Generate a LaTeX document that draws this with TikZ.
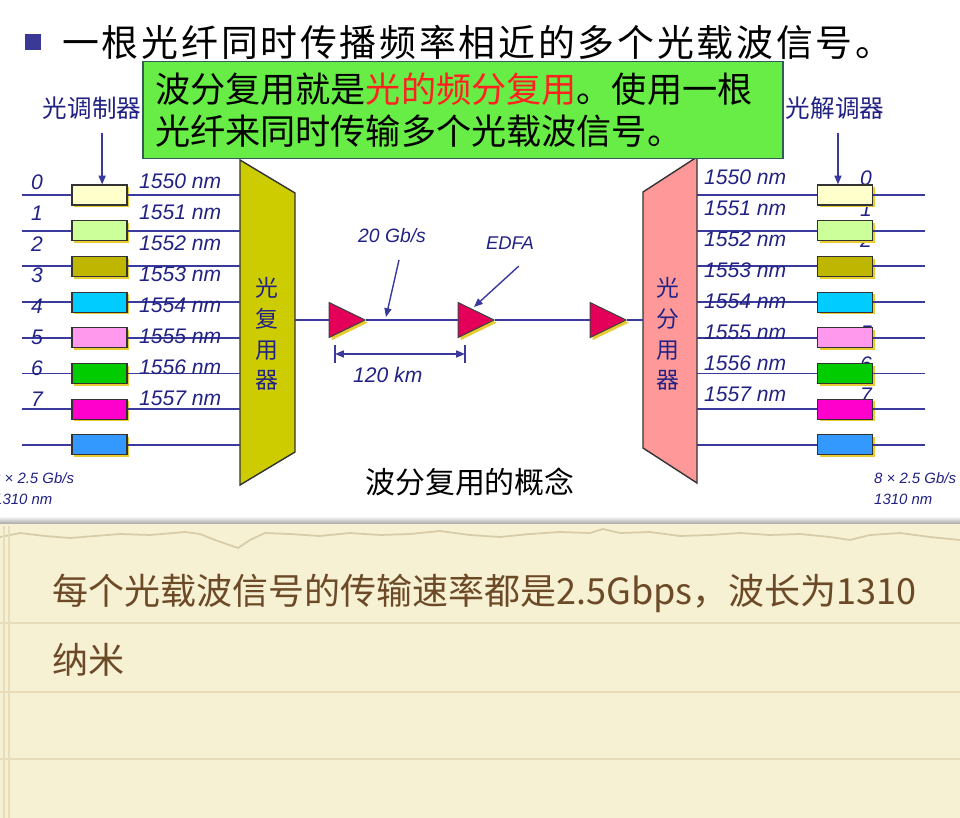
\documentclass[tikz,border=0pt]{standalone}
\usepackage{fontspec}
\setmainfont{Noto Sans CJK SC}
\setsansfont{Liberation Sans}
\usepackage{tikz}
\usetikzlibrary{arrows.meta, positioning, shapes.geometric, shadows}
\definecolor{wdmblue}{RGB}{58,58,156}
\definecolor{inkblue}{RGB}{34,34,132}
\definecolor{notegreen}{RGB}{104,236,70}
\definecolor{noteline}{RGB}{50,90,90}
\definecolor{notered}{RGB}{255,32,32}
\definecolor{muxolive}{RGB}{204,204,0}
\definecolor{demuxpink}{RGB}{255,153,153}
\definecolor{ampred}{RGB}{228,0,88}
\definecolor{shadowyellow}{RGB}{232,204,50}
\definecolor{bulletblue}{RGB}{58,58,150}
\definecolor{paper}{RGB}{247,241,211}
\definecolor{paperline}{RGB}{231,221,186}
\definecolor{tearline}{RGB}{214,204,168}
\definecolor{penbrown}{RGB}{108,74,40}
\definecolor{sigA}{RGB}{255,255,204}
\definecolor{sigB}{RGB}{204,255,153}
\definecolor{sigC}{RGB}{190,182,0}
\definecolor{sigD}{RGB}{0,204,255}
\definecolor{sigE}{RGB}{255,153,238}
\definecolor{sigF}{RGB}{0,204,0}
\definecolor{sigG}{RGB}{255,0,204}
\definecolor{sigH}{RGB}{51,153,255}

\begin{document}
\begin{tikzpicture}[
  x=0.02cm, y=-0.02cm,
  fiber/.style={wdmblue, line width=1.1pt},
  ptr/.style={-{Triangle[length=5pt,width=4pt]}, wdmblue, line width=0.8pt},
  modbox/.style={rectangle, draw=black!80, line width=0.6pt, inner sep=0pt,
                 minimum width=1.1cm, minimum height=0.4cm,
                 general shadow={fill=shadowyellow, shadow xshift=1.2pt, shadow yshift=-1.2pt}},
  amp/.style={isosceles triangle, isosceles triangle stretches, inner sep=0pt,
              minimum width=0.7cm, minimum height=0.72cm, fill=ampred, draw=black!75, line width=0.6pt,
              general shadow={fill=shadowyellow, shadow xshift=1.5pt, shadow yshift=-1.5pt}},
  lbl/.style={inkblue, font=\sffamily\itshape\fontsize{12}{12}\selectfont},
  small/.style={inkblue, font=\sffamily\itshape\fontsize{8.5}{8.5}\selectfont},
  vtext/.style={inkblue, align=center, font=\fontsize{13}{17.5}\selectfont},
  note/.style={rectangle, draw=noteline, line width=0.8pt, fill=notegreen,
               minimum width=12.8cm, minimum height=1.94cm, inner xsep=0.24cm,
               text width=12.32cm, align=left, font=\fontsize{20}{24}\selectfont},
]
\useasboundingbox (0,0) rectangle (960,818);
\clip (0,0) rectangle (960,818);

% paper below the slide
\fill[white] (0,0) rectangle (960,524);
\shade[top color=white, bottom color=black!35] (0,516) rectangle (960,524);
\fill[paper] (0,524) rectangle (960,818);
\draw[tearline, line width=1pt] (0,537) -- (20,533) -- (45,536) -- (70,538) -- (95,536) -- (120,534)
  -- (150,535) -- (185,532) -- (200,534) -- (215,540) -- (238,548) -- (250,540) -- (265,533)
  -- (290,534) -- (320,536) -- (350,533) -- (380,535) -- (410,534) -- (440,531) -- (470,535)
  -- (500,537) -- (530,534) -- (560,532) -- (590,533) -- (603,529) -- (620,533) -- (650,532)
  -- (680,536) -- (710,535) -- (740,533) -- (770,535) -- (800,534) -- (830,537) -- (850,540)
  -- (870,535) -- (900,533) -- (930,537) -- (960,540);
\foreach \ry in {623,692,759}
  \draw[paperline, line width=0.8pt] (0,\ry) -- (960,\ry);
\draw[paperline, line width=0.8pt] (4,526) -- (4,818);
\draw[paperline, line width=0.8pt] (9,526) -- (9,818);

% title
\node[fill=bulletblue, minimum size=0.32cm, inner sep=0pt] (bullet) at (33,42) {};
\node[anchor=west, inner sep=0pt, font=\fontsize{21}{21}\selectfont\addfontfeature{LetterSpace=7.5}] (title) at (62,42)
  {一根光纤同时传播频率相近的多个光载波信号。};

% multiplexer and demultiplexer
\filldraw[fill=muxolive, draw=black!80, line width=0.8pt] (240,160) -- (295,193) -- (295,452) -- (240,485) -- cycle;
\filldraw[fill=demuxpink, draw=black!80, line width=0.8pt] (643,192) -- (697,157) -- (697,483) -- (643,448) -- cycle;
\node[vtext] (muxname) at (267,334) {光\\复\\用\\器};
\node[vtext] (demuxname) at (668,334) {光\\分\\用\\器};
\coordinate (muxout) at (295,320);
\coordinate (demuxin) at (643,320);

% channel numbers on the right sit under the boxes
\foreach \i in {0,...,7}
  \node[lbl] (rnum\i) at (866,{178+31*\i}) {\i};

% channels
\foreach \i/\c in {0/sigA,1/sigB,2/sigC,3/sigD,4/sigE,5/sigF,6/sigG,7/sigH}{
  \pgfmathsetmacro\ly{195+35.7*\i}
  \coordinate (in\i) at (22,\ly);
  \coordinate (muxin\i) at (240,\ly);
  \coordinate (demuxout\i) at (697,\ly);
  \coordinate (out\i) at (925,\ly);
  \node[modbox, fill=\c] (mod\i) at (99.5,\ly) {};
  \node[modbox, fill=\c] (demod\i) at (845,\ly) {};
  \draw[fiber] (in\i) -- (mod\i) -- (muxin\i);
  \draw[fiber] (demuxout\i) -- (demod\i) -- (out\i);
}

% labels of the channels
\foreach \i in {0,...,7}{
  \pgfmathtruncatemacro\wl{1550+\i}
  \node[lbl] (lnum\i) at (37,{182+31*\i}) {\i};
  \node[lbl, anchor=west] (wlin\i) at (133,{181+31*\i}) {\wl\ nm};
  \node[lbl, anchor=west] (wlout\i) at (698,{177+31*\i}) {\wl\ nm};
}

% modulator / demodulator
\node[inkblue, font=\fontsize{14}{14}\selectfont] (modlabel) at (92,108) {光调制器};
\node[inkblue, font=\fontsize{14}{14}\selectfont] (demodlabel) at (835,108) {光解调器};
\draw[ptr, shorten <=4pt] ([xshift=1.5pt]modlabel.south -| mod0.north) -- ([xshift=1.5pt]mod0.north);
\draw[ptr, shorten <=4pt] ([xshift=-4pt]demodlabel.south -| demod0.north) -- ([xshift=-4pt]demod0.north);

% line with amplifiers
\node[amp] (amp1) at (340,320) {};
\node[amp] (amp2) at (469,320) {};
\node[amp] (amp3) at (601,320) {};
\draw[fiber] (muxout) -- (amp1) -- (amp2) -- (amp3) -- (demuxin);

\node[lbl, font=\sffamily\itshape\fontsize{11}{11}\selectfont] (rate) at (392,236) {20 Gb/s};
\node[lbl, font=\sffamily\itshape\fontsize{10.5}{10.5}\selectfont] (edfa) at (510,243) {EDFA};
\coordinate (ratetip) at (386,317);
\coordinate (edfatip) at (474,307);
\draw[ptr] ([xshift=4pt,yshift=-6pt]rate.south) -- (ratetip);
\draw[ptr] ([xshift=5pt,yshift=-6pt]edfa.south) -- (edfatip);

% span
\coordinate (span1) at (335,354);
\coordinate (span2) at (465,354);
\draw[wdmblue, line width=0.8pt] (span1) ++(0,-9) -- ++(0,18);
\draw[wdmblue, line width=0.8pt] (span2) ++(0,-9) -- ++(0,18);
\draw[{Triangle[length=5pt,width=4pt]}-{Triangle[length=5pt,width=4pt]}, wdmblue, line width=0.8pt] (span1) -- (span2);
\node[lbl, anchor=west] (spanlabel) at (347,375) {120 km};

\node[font=\fontsize{17}{17}\selectfont] (concept) at (470,482) {波分复用的概念};

\node[small, anchor=west] (rateL) at (-14,478) {8 × 2.5 Gb/s};
\node[small, anchor=west] (wlL) at (-12,499) {1310 nm};
\node[small, anchor=west] (rateR) at (868,478) {8 × 2.5 Gb/s};
\node[small, anchor=west] (wlR) at (868,499) {1310 nm};

% note box
\node[note] (note) at (463,110)
  {波分复用就是{\color{notered}光的频分复用}。使用一根\\光纤来同时传输多个光载波信号。};

% handwritten note
\node[penbrown, anchor=west, inner sep=0pt, font=\fontsize{20.5}{20.5}\selectfont] (remark) at (52,593)
  {每个光载波信号的传输速率都是2.5Gbps，波长为1310};
\node[penbrown, anchor=west, inner sep=0pt, font=\fontsize{20.5}{20.5}\selectfont] (remark2) at (52,660) {纳米};
\end{tikzpicture}
\end{document}
